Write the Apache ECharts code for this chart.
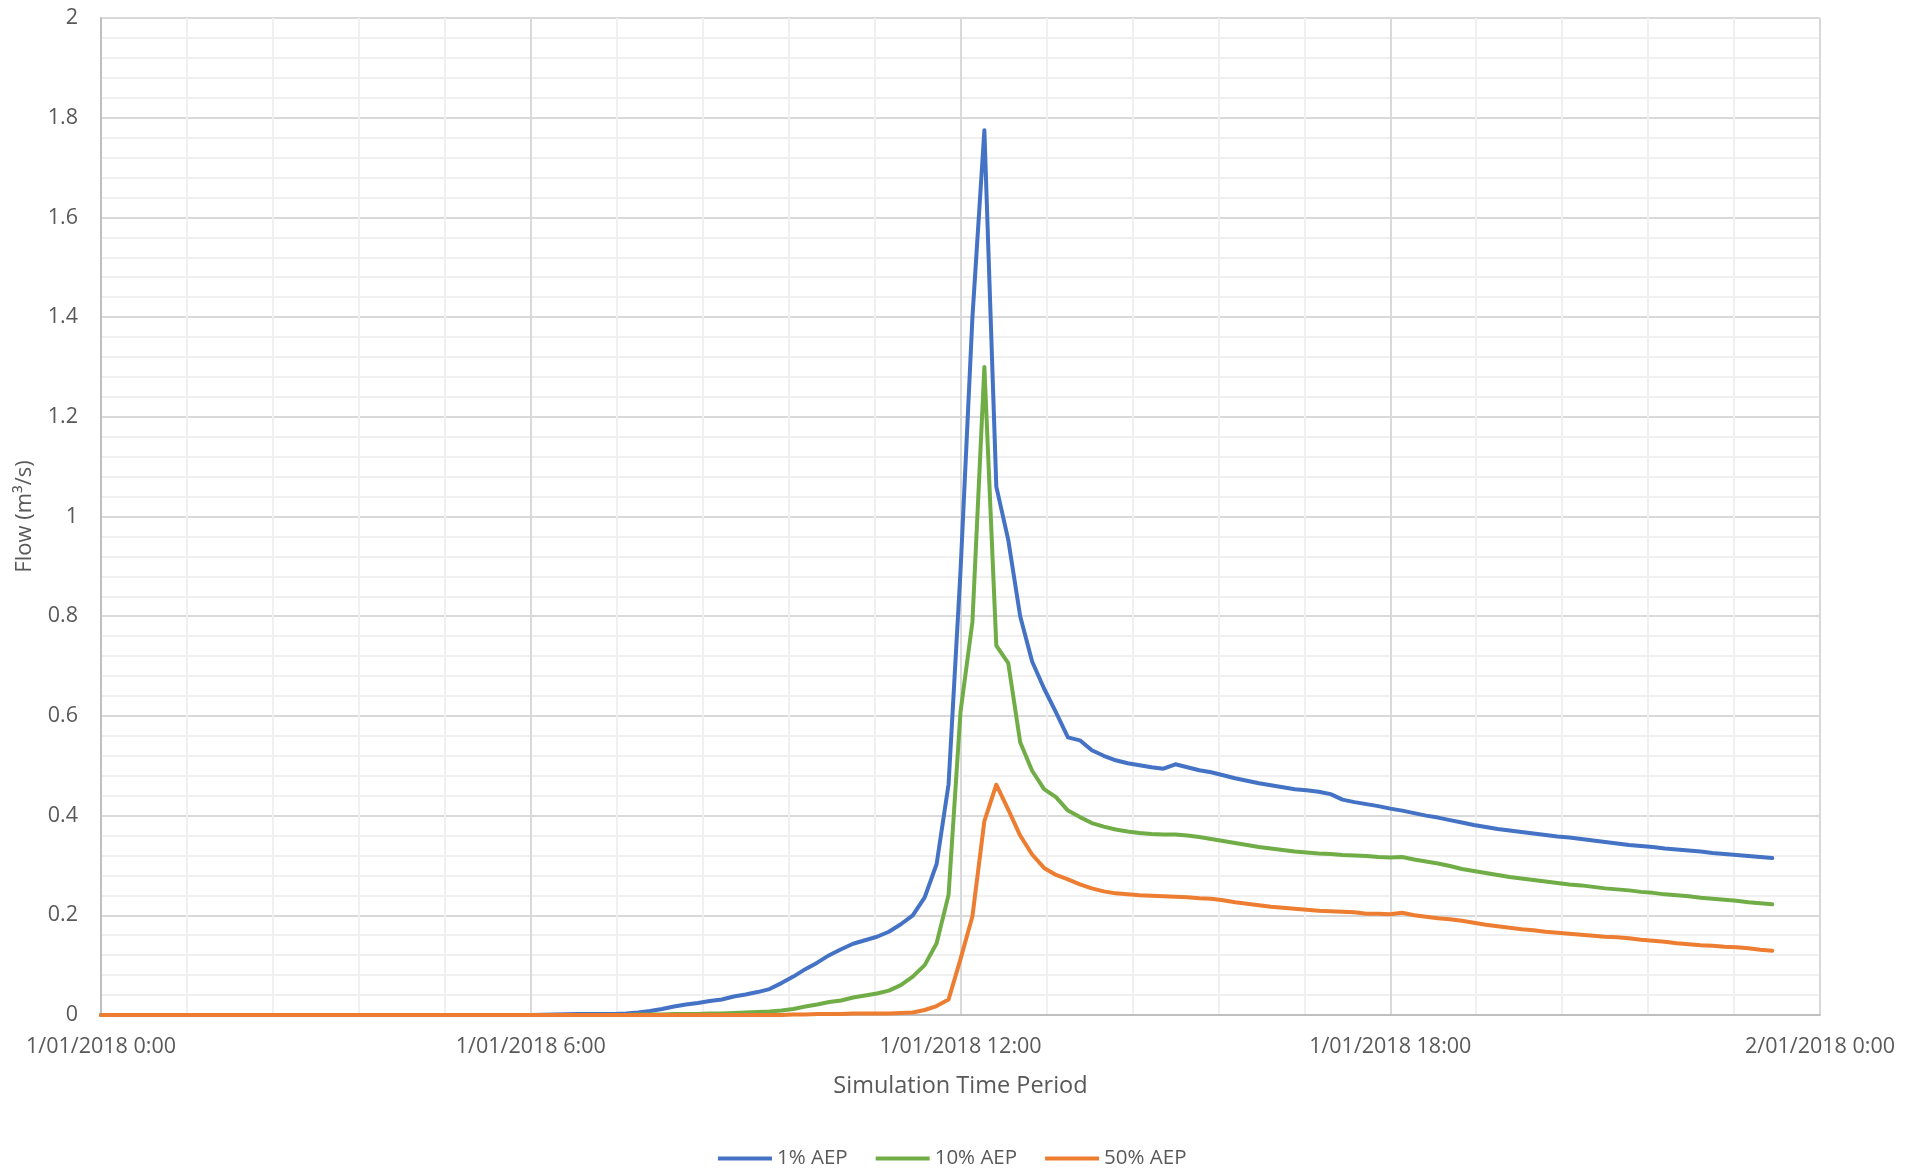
<!DOCTYPE html>
<html>
<head>
<meta charset="utf-8">
<title>Flow hydrograph</title>
<script src="https://cdn.jsdelivr.net/npm/echarts@6/dist/echarts.min.js"></script>
<style>
  html, body { margin: 0; padding: 0; background: #ffffff; }
  #chart { width: 1923px; height: 1172px; }
</style>
</head>
<body>
<div id="chart"></div>
<script>
// Simulation output: flow every 10 minutes from 1/01/2018 0:00 to 23:20
const startHour = 0;
const stepMinutes = 10;

const seriesNames = ['1% AEP', '10% AEP', '50% AEP'];

const xTickLabels = ['1/01/2018 0:00', '1/01/2018 6:00', '1/01/2018 12:00', '1/01/2018 18:00', '2/01/2018 0:00'];

// 1% AEP flow (m³/s)
const flow1 = [
  // 0:00 - 6:00
  0, 0, 0, 0, 0, 0, 0, 0, 0, 0, 0, 0, 0, 0, 0, 0, 0, 0, 0, 0,
  0, 0, 0, 0, 0, 0, 0, 0, 0, 0, 0, 0, 0, 0, 0, 0, 0,
  // 6:10 - 7:50
  0.0005, 0.001, 0.0015, 0.002, 0.002, 0.002, 0.002, 0.003, 0.005, 0.008, 0.012,
  // 8:00 - 9:50
  0.017, 0.021, 0.024, 0.028, 0.031, 0.037, 0.041, 0.046, 0.052, 0.064, 0.077, 0.092,
  // 10:00 - 11:50
  0.105, 0.120, 0.132, 0.143, 0.150, 0.157, 0.167, 0.182, 0.200, 0.236, 0.303, 0.463,
  // 12:00 - 13:50
  0.89, 1.40, 1.775, 1.06, 0.953, 0.80, 0.709, 0.655, 0.607, 0.557, 0.551, 0.531,
  // 14:00 - 15:00
  0.520, 0.511, 0.505, 0.501, 0.497, 0.494, 0.503,
  // 15:10 - 18:20
  0.497, 0.491, 0.487, 0.481, 0.475, 0.470, 0.465, 0.461, 0.457, 0.453,
  0.451, 0.448, 0.443, 0.432, 0.427, 0.423, 0.419, 0.414, 0.410, 0.405,
  // 18:30 - 23:20
  0.400, 0.396, 0.391, 0.386, 0.381, 0.377, 0.373, 0.370, 0.367, 0.364,
  0.361, 0.358, 0.356, 0.353, 0.350, 0.347, 0.344, 0.341, 0.339, 0.337,
  0.334, 0.332, 0.330, 0.328, 0.325, 0.323, 0.321, 0.319, 0.317, 0.315
];

// 10% AEP flow (m³/s)
const flow10 = [
  // 0:00 - 7:20
  0, 0, 0, 0, 0, 0, 0, 0, 0, 0, 0, 0, 0, 0, 0, 0, 0, 0, 0, 0,
  0, 0, 0, 0, 0, 0, 0, 0, 0, 0, 0, 0, 0, 0, 0, 0, 0, 0, 0, 0,
  0, 0, 0, 0, 0,
  // 7:30 - 9:50
  0.001, 0.001, 0.001, 0.002, 0.002, 0.002, 0.003, 0.003, 0.004, 0.005,
  0.006, 0.007, 0.009, 0.012, 0.017,
  // 10:00 - 11:50
  0.021, 0.026, 0.029, 0.035, 0.039, 0.043, 0.049, 0.060, 0.077, 0.100, 0.144, 0.241,
  // 12:00 - 13:50
  0.608, 0.789, 1.30, 0.741, 0.706, 0.547, 0.490, 0.453, 0.437, 0.410, 0.397, 0.385,
  // 14:00 - 15:00
  0.378, 0.372, 0.368, 0.365, 0.363, 0.362, 0.362,
  // 15:10 - 18:20
  0.360, 0.357, 0.353, 0.349, 0.345, 0.341, 0.337, 0.334, 0.331, 0.328,
  0.326, 0.324, 0.323, 0.321, 0.320, 0.319, 0.317, 0.316, 0.317, 0.312,
  // 18:30 - 23:20
  0.308, 0.304, 0.299, 0.293, 0.289, 0.285, 0.281, 0.277, 0.274, 0.271,
  0.268, 0.265, 0.262, 0.260, 0.257, 0.254, 0.252, 0.250, 0.247, 0.245,
  0.242, 0.240, 0.238, 0.235, 0.233, 0.231, 0.229, 0.226, 0.224, 0.222
];

// 50% AEP flow (m³/s)
const flow50 = [
  // 0:00 - 9:30
  0, 0, 0, 0, 0, 0, 0, 0, 0, 0, 0, 0, 0, 0, 0, 0, 0, 0, 0, 0,
  0, 0, 0, 0, 0, 0, 0, 0, 0, 0, 0, 0, 0, 0, 0, 0, 0, 0, 0, 0,
  0, 0, 0, 0, 0, 0, 0, 0, 0, 0, 0, 0, 0, 0, 0, 0, 0, 0,
  // 9:40 - 11:50
  0.001, 0.001, 0.002, 0.002, 0.002, 0.003, 0.003, 0.003, 0.003, 0.004,
  0.005, 0.010, 0.018, 0.031,
  // 12:00 - 13:50
  0.112, 0.198, 0.389, 0.462, 0.412, 0.360, 0.322, 0.295, 0.281, 0.272, 0.262, 0.254,
  // 14:00 - 15:00
  0.248, 0.244, 0.242, 0.240, 0.239, 0.238, 0.237,
  // 15:10 - 18:20
  0.236, 0.234, 0.233, 0.230, 0.226, 0.223, 0.220, 0.217, 0.215, 0.213,
  0.211, 0.209, 0.208, 0.207, 0.206, 0.203, 0.203, 0.202, 0.205, 0.200,
  // 18:30 - 23:20
  0.197, 0.194, 0.192, 0.189, 0.185, 0.181, 0.178, 0.175, 0.172, 0.170,
  0.167, 0.165, 0.163, 0.161, 0.159, 0.157, 0.156, 0.154, 0.151, 0.149,
  0.147, 0.144, 0.142, 0.140, 0.139, 0.137, 0.136, 0.134, 0.131, 0.129
];

const seriesColors = ['#4472C4', '#70AD47', '#ED7D31'];
const textColor = '#595959';
const fontFamily = '"Open Sans", "Noto Sans", sans-serif';

// pair every flow value with its simulation hour
function toPoints(values) {
  return values.map((v, i) => [startHour + i * stepMinutes / 60, v]);
}

const chart = echarts.init(document.getElementById('chart'), null, { renderer: 'canvas' });

chart.setOption({
  animation: false,
  backgroundColor: '#ffffff',
  textStyle: { fontFamily: fontFamily, color: textColor },
  grid: { left: 101, right: 103, top: 18, bottom: 157, containLabel: false },
  legend: {
    data: seriesNames,
    left: 713,
    top: 1143,
    icon: 'rect',
    itemWidth: 54,
    itemHeight: 4,
    itemGap: 28,
    textStyle: { color: textColor, fontSize: 20.5, fontFamily: fontFamily }
  },
  xAxis: {
    type: 'value',
    min: 0,
    max: 24,
    interval: 6,
    name: 'Simulation Time Period',
    nameLocation: 'middle',
    nameGap: 59,
    nameTextStyle: { color: textColor, fontSize: 23.5, fontFamily: fontFamily },
    axisLine: { show: true, onZero: false, lineStyle: { color: '#bfbfbf', width: 2 } },
    axisTick: { show: false },
    axisLabel: {
      color: textColor,
      fontSize: 21.5,
      fontFamily: fontFamily,
      margin: 21,
      showMinLabel: true,
      showMaxLabel: true,
      formatter: (v) => xTickLabels[Math.round(v / 6)]
    },
    splitLine: { show: true, lineStyle: { color: '#d9d9d9', width: 2 } },
    minorTick: { show: false, splitNumber: 5 },
    minorSplitLine: { show: true, lineStyle: { color: '#f0f0f0', width: 2 } }
  },
  yAxis: {
    type: 'value',
    min: 0,
    max: 2,
    interval: 0.2,
    name: 'Flow (m³/s)',
    nameLocation: 'middle',
    nameGap: 65,
    nameRotate: 90,
    nameTextStyle: { color: textColor, fontSize: 22, fontFamily: fontFamily },
    axisLine: { show: true, lineStyle: { color: '#bfbfbf', width: 2 } },
    axisTick: { show: false },
    axisLabel: {
      color: textColor,
      fontSize: 21.5,
      fontFamily: fontFamily,
      margin: 23,
      formatter: (v) => String(Math.round(v * 10) / 10)
    },
    splitLine: { show: true, lineStyle: { color: '#d9d9d9', width: 2 } },
    minorTick: { show: false, splitNumber: 5 },
    minorSplitLine: { show: true, lineStyle: { color: '#f0f0f0', width: 2 } }
  },
  series: [
    { name: seriesNames[0], data: toPoints(flow1), color: seriesColors[0] },
    { name: seriesNames[1], data: toPoints(flow10), color: seriesColors[1] },
    { name: seriesNames[2], data: toPoints(flow50), color: seriesColors[2] }
  ].map((s) => ({
    type: 'line',
    name: s.name,
    data: s.data,
    showSymbol: false,
    symbol: 'none',
    itemStyle: { color: s.color },
    lineStyle: { color: s.color, width: 4, cap: 'round', join: 'round' },
    emphasis: { disabled: true }
  }))
});
</script>
</body>
</html>
